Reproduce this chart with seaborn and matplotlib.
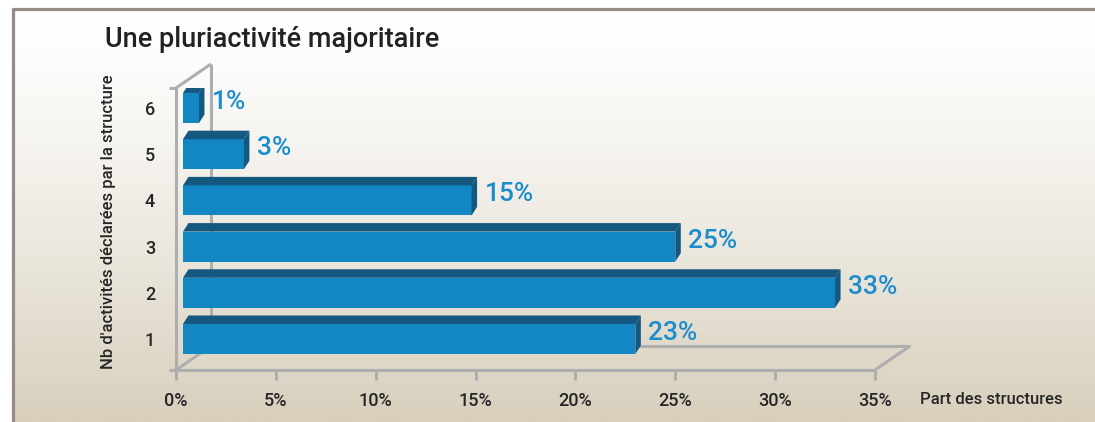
import numpy as np
import pandas as pd
import matplotlib
matplotlib.use('Agg')
import matplotlib.pyplot as plt
import seaborn as sns
from matplotlib.patches import Polygon

# Data (bar lengths), labels show the rounded share
nb_activites = ['1', '2', '3', '4', '5', '6']
part_structures = [23, 33, 25, 14.8, 3.4, 1.15]
x_ticks = [0, 5, 10, 15, 20, 25, 30, 35]
x_ticklabels = ['0%', '5%', '10%', '15%', '20%', '25%', '30%', '35%']
title = 'Une pluriactivité majoritaire'
ylabel = "Nb d'activités déclarées par la structure"
xlabel = 'Part des structures'

df = pd.DataFrame({'nb': nb_activites, 'part': part_structures})

sns.set_theme(style='white')
plt.rcParams['font.family'] = ['Roboto', 'DejaVu Sans']

front_col = '#1287c4'
dark_col = '#14587f'
label_col = '#1b8dcd'
grid_col = '#aeaeb0'
text_col = '#262626'

W, H = 1095, 422
fig = plt.figure(figsize=(W / 100, H / 100), dpi=100)

# background gradient + frame
bg = fig.add_axes([0, 0, 1, 1], zorder=-10)
t = np.linspace(0, 1, 256) ** 1.3
top = np.array([1.0, 1.0, 1.0])
bot = np.array([216, 207, 188]) / 255
grad = top[None, :] + (bot - top)[None, :] * t[:, None]
bg.imshow(grad[:, None, :], extent=[12, W, H, 9], aspect='auto')
bg.plot([12.5, 12.5], [8, H], color='#968c87', lw=2.3, solid_capstyle='butt')
bg.plot([11.5, W], [8.5, 8.5], color='#968c87', lw=2.3, solid_capstyle='butt')
bg.set_xlim(0, W)
bg.set_ylim(H, 0)
bg.axis('off')

# main axes, pixel layout of the floor front edge / wall front top
L, R, B, T = 176, 875, 370, 88
c_first, c_last = 339, 108          # pixel centers of bars "1" and "6"
ax = fig.add_axes([L / W, 1 - B / H, (R - L) / W, (B - T) / H])
ax.set_facecolor('none')

sns.barplot(data=df, x='part', y='nb', order=nb_activites, orient='h',
            color=front_col, saturation=1, width=0.65, linewidth=0,
            edgecolor='none', ax=ax, zorder=3)

unit = (c_first - c_last) / (len(nb_activites) - 1)
yb = -(B - c_first) / unit
yt = (len(nb_activites) - 1) + (c_last - T) / unit
ax.set_xlim(0, 35)
ax.set_ylim(yb, yt)

sx = (R - L) / 35.0   # px per %
sy = unit             # px per category unit

def px(dx, dy):
    return dx / sx, dy / sy

# 3D frame (floor + left wall)
fx, fy = px(35, 24)
lw = 2.2
kw = dict(color=grid_col, lw=lw, clip_on=False, zorder=1, solid_capstyle='butt')
sx0, _ = px(-7, 0)
ax.plot([sx0, 35], [yb, yb], **kw)
ax.plot([35, 35 + fx], [yb, yb + fy], **kw)
ax.plot([fx, 35 + fx], [yb + fy, yb + fy], **kw)
ax.plot([0, fx], [yb, yb + fy], **kw)
ax.plot([0, 0], [yb, yt], **kw)
ax.plot([fx, fx], [yb + fy, yt + fy], **kw)
ax.plot([0, fx], [yt, yt + fy], **kw)
ax.plot([sx0, 0], [yt, yt], **kw)

# 3D bars
ox, _ = px(7, 0)
bx, by = px(5.5, 8.5)
lx, ly = px(13, 6)
for p, v in zip(ax.patches, part_structures):
    x0 = p.get_x() + ox
    x1 = p.get_x() + p.get_width()
    y0 = p.get_y()
    y1 = y0 + p.get_height()
    p.set_x(x0)
    p.set_width(x1 - x0)
    top_face = Polygon([(x0, y1), (x0 + bx, y1 + by), (x1 + bx, y1 + by), (x1, y1)],
                       closed=True, facecolor=dark_col, edgecolor='none', zorder=3)
    side_face = Polygon([(x1, y0), (x1, y1), (x1 + bx, y1 + by), (x1 + bx, y0 + by)],
                        closed=True, facecolor=dark_col, edgecolor='none', zorder=3)
    ax.add_patch(top_face)
    ax.add_patch(side_face)
    ax.text(x1 + lx, (y0 + y1) / 2 + ly, f'{round(v)}%', color=label_col,
            fontsize=19, fontweight='medium', va='center', ha='left', zorder=4)

for s in ax.spines.values():
    s.set_visible(False)

ax.set_xticks(x_ticks)
ax.set_xticklabels(x_ticklabels, fontweight='medium')
ax.set_yticks(range(len(nb_activites)))
ax.set_yticklabels(nb_activites, fontweight='medium')
ax.tick_params(axis='x', length=7, width=lw, color=grid_col, pad=9,
               labelsize=13, labelcolor=text_col, bottom=True)
ax.tick_params(axis='y', length=0, pad=15, labelsize=13, labelcolor=text_col)
ax.set_xlabel('')
ax.set_ylabel('')

fig.text(105 / W, 1 - 47 / H, title, fontsize=19.5, fontweight='medium',
         va='baseline', ha='left', color='#222222')
fig.text(109 / W, 1 - 222 / H, ylabel, rotation=90, ha='center', va='center',
         fontsize=12, fontweight='medium', color=text_col)
fig.text(920 / W, 1 - 400 / H, xlabel, ha='left', va='center',
         fontsize=12, fontweight='medium', color=text_col)

fig.savefig('out.png', dpi=100)
